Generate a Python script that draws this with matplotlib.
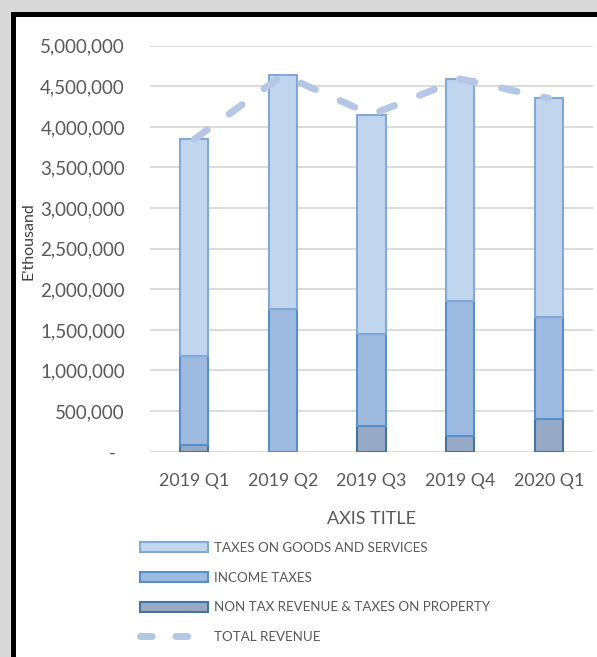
import matplotlib
matplotlib.use('Agg')
import matplotlib.pyplot as plt
import matplotlib.patches as mpatches
import matplotlib.lines as mlines
from matplotlib.ticker import FuncFormatter
import numpy as np

plt.rcParams['font.family'] = ['Lato', 'DejaVu Sans']

# Quarterly revenue, E'thousand
quarters = ['2019 Q1', '2019 Q2', '2019 Q3', '2019 Q4', '2020 Q1']
non_tax = [80000, 0, 320000, 197000, 399000]
income_taxes = [1098000, 1761000, 1129000, 1659000, 1264000]
goods_services = [2669000, 2878000, 2701000, 2734000, 2689000]
total_revenue = [3847000, 4639000, 4150000, 4590000, 4352000]

GRAY_TXT = '#595959'


def fmt_thousands(v, pos):
    if v == 0:
        return '-  '
    return '{:,.0f}'.format(v)


def plot_data():
    W, H = 597, 657
    fig = plt.figure(figsize=(W / 100, H / 100), dpi=100, facecolor='#d9d9d9')

    # white chart area with black frame
    frame = mpatches.Rectangle((12.5 / W, -0.1), 1.2, 1.1 - 14 / H,
                               transform=fig.transFigure, facecolor='white',
                               edgecolor='black', linewidth=3.6, zorder=-5)
    fig.patches.append(frame)

    ax = fig.add_axes([150 / W, 1 - 451.7 / H, 443 / W, 406 / H])
    ax.set_facecolor('none')

    x = np.arange(len(quarters))
    width = 0.32
    bottom_income = np.array(non_tax)
    bottom_goods = bottom_income + np.array(income_taxes)

    ax.bar(x, non_tax, width, color='#97a9c5', edgecolor='#46739f', linewidth=1.5, zorder=2)
    ax.bar(x, income_taxes, width, bottom=bottom_income, color='#9fbadf',
           edgecolor='#5590cc', linewidth=1.5, zorder=2)
    ax.bar(x, goods_services, width, bottom=bottom_goods, color='#c1d5ed',
           edgecolor='#80a8d8', linewidth=1.5, zorder=2)

    ax.plot(x, total_revenue, color='#b4c8e6', linewidth=5, dashes=[2.3, 3.9],
            dash_capstyle='round', solid_capstyle='round', zorder=3)

    ax.set_xlim(-0.5, len(quarters) - 0.5)
    ax.set_ylim(0, 5000000)
    ax.set_yticks(np.arange(0, 5000001, 500000))
    ax.yaxis.set_major_formatter(FuncFormatter(fmt_thousands))
    ax.set_xticks(x)
    ax.set_xticklabels(quarters)
    ax.tick_params(axis='both', length=0, colors=GRAY_TXT)
    ax.tick_params(axis='y', pad=18, labelsize=13.5)
    ax.tick_params(axis='x', pad=15, labelsize=12.8)
    ax.grid(axis='y', color='#d9d9d9', linewidth=1.3, zorder=0)
    ax.set_axisbelow(True)
    for s in ax.spines.values():
        s.set_visible(False)

    ax.set_xlabel('AXIS TITLE', fontsize=13, color=GRAY_TXT, labelpad=16)
    fig.text(28 / W, 1 - 241 / H, "E'thousand", rotation=90, fontsize=11.5,
             color='#404040', ha='center', va='center')

    handles = [
        mpatches.Patch(facecolor='#c1d5ed', edgecolor='#80a8d8', linewidth=1.5),
        mpatches.Patch(facecolor='#9fbadf', edgecolor='#5590cc', linewidth=1.5),
        mpatches.Patch(facecolor='#97a9c5', edgecolor='#46739f', linewidth=1.5),
        mlines.Line2D([], [], color='#b4c8e6', linewidth=5, dashes=[1.7, 3.4],
                      dash_capstyle='round'),
    ]
    labels = ['TAXES ON GOODS AND SERVICES', 'INCOME TAXES',
              'NON TAX REVENUE & TAXES ON PROPERTY', 'TOTAL REVENUE']
    leg = fig.legend(handles, labels, loc='upper left',
                     bbox_to_anchor=(128 / W, 1 - 530 / H), frameon=False,
                     fontsize=9.6, handlelength=5.1, handleheight=0.75,
                     handletextpad=0.45, labelspacing=1.33)
    for t in leg.get_texts():
        t.set_color(GRAY_TXT)

    fig.savefig('out.png', dpi=100, facecolor=fig.get_facecolor())


def main():
    plot_data()


if __name__ == '__main__':
    main()
